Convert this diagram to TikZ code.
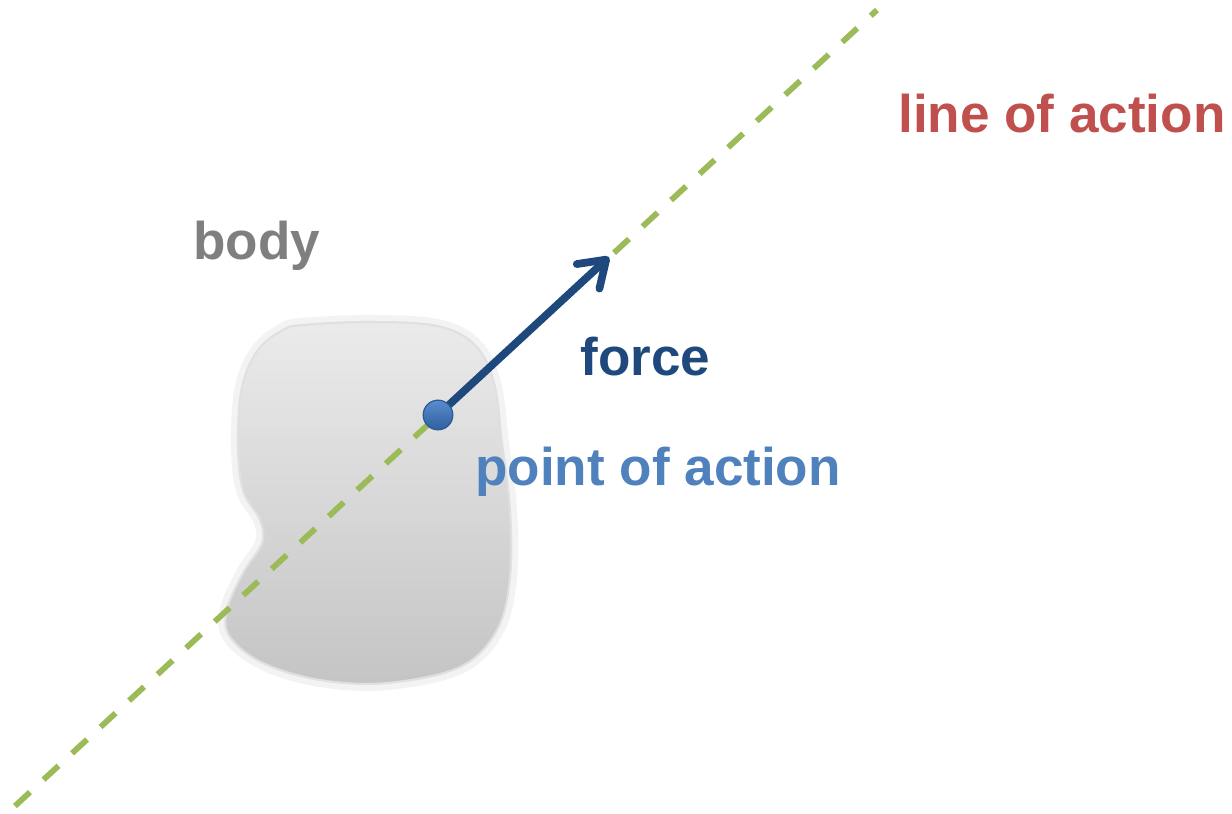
\documentclass[tikz,border=0pt]{standalone}
\usepackage{fontspec}
\setmainfont{Liberation Sans}
\usetikzlibrary{arrows.meta,positioning}

\definecolor{lineGreen}{HTML}{9BBB59}
\definecolor{forceBlue}{HTML}{1F497D}
\definecolor{pointBlue}{HTML}{4F81BD}
\definecolor{dotBlue}{HTML}{3B78C6}
\definecolor{actionRed}{HTML}{C0504D}
\definecolor{bodyGray}{HTML}{7F7F7F}

\tikzset{
  label text/.style={font=\fontsize{30.2}{35}\selectfont\bfseries,inner sep=0pt,anchor=base west},
  action line/.style={lineGreen,line width=3.3pt,dash pattern=on 11.6pt off 10.5pt},
  force arrow/.style={forceBlue,line width=4.4pt,line cap=round,
    -{Straight Barb[length=14pt,width=19pt,line cap=round,line join=round]}},
  point dot/.style={circle,minimum size=16.8pt,inner sep=0pt,
    top color=dotBlue!85!white,bottom color=dotBlue!80!black,
    draw=dotBlue!75!black,line width=.6pt},
}

\begin{document}
\begin{tikzpicture}[x=0.02cm,y=-0.02cm]
  \fill[white] (0,0) rectangle (1232,814);
  \useasboundingbox (0,0) rectangle (1232,814);

  % the body
  \def\bodyoutline{(303,325) (370,322) (437,326) (475,345) (494,383) (502,443)
    (510,510) (510,577) (497,630) (460,667) (387,683) (320,680) (263,663)
    (230,637) (227,610) (243,573) (262,543) (260,520) (243,490) (238,443)
    (242,387) (258,350) (283,330)}
  \draw[black!8,line width=8pt,opacity=.6]
    plot[smooth cycle,tension=.6] coordinates {\bodyoutline};
  \shade[top color=black!8,bottom color=black!23,draw=black!12,line width=1.2pt]
    plot[smooth cycle,tension=.6] coordinates {\bodyoutline};

  % line of action
  \coordinate (line start) at (15,806);
  \coordinate (line end) at (877,10);
  \draw[action line] (line start) -- (line end);

  % force at the point of action
  \node[point dot] (poa) at (438,415) {};
  \coordinate (force tip) at (609,257);
  \draw[force arrow] (poa) -- (force tip);
  \node[point dot] at (poa) {};

  % labels
  \node[label text,bodyGray] (body label) at (193,260) {body};
  \node[label text,forceBlue] (force label) at (580,376) {force};
  \node[label text,pointBlue] (poa label) at (475,486) {point of action};
  \node[label text,actionRed] (loa label) at (898,133) {line of action};
\end{tikzpicture}
\end{document}
